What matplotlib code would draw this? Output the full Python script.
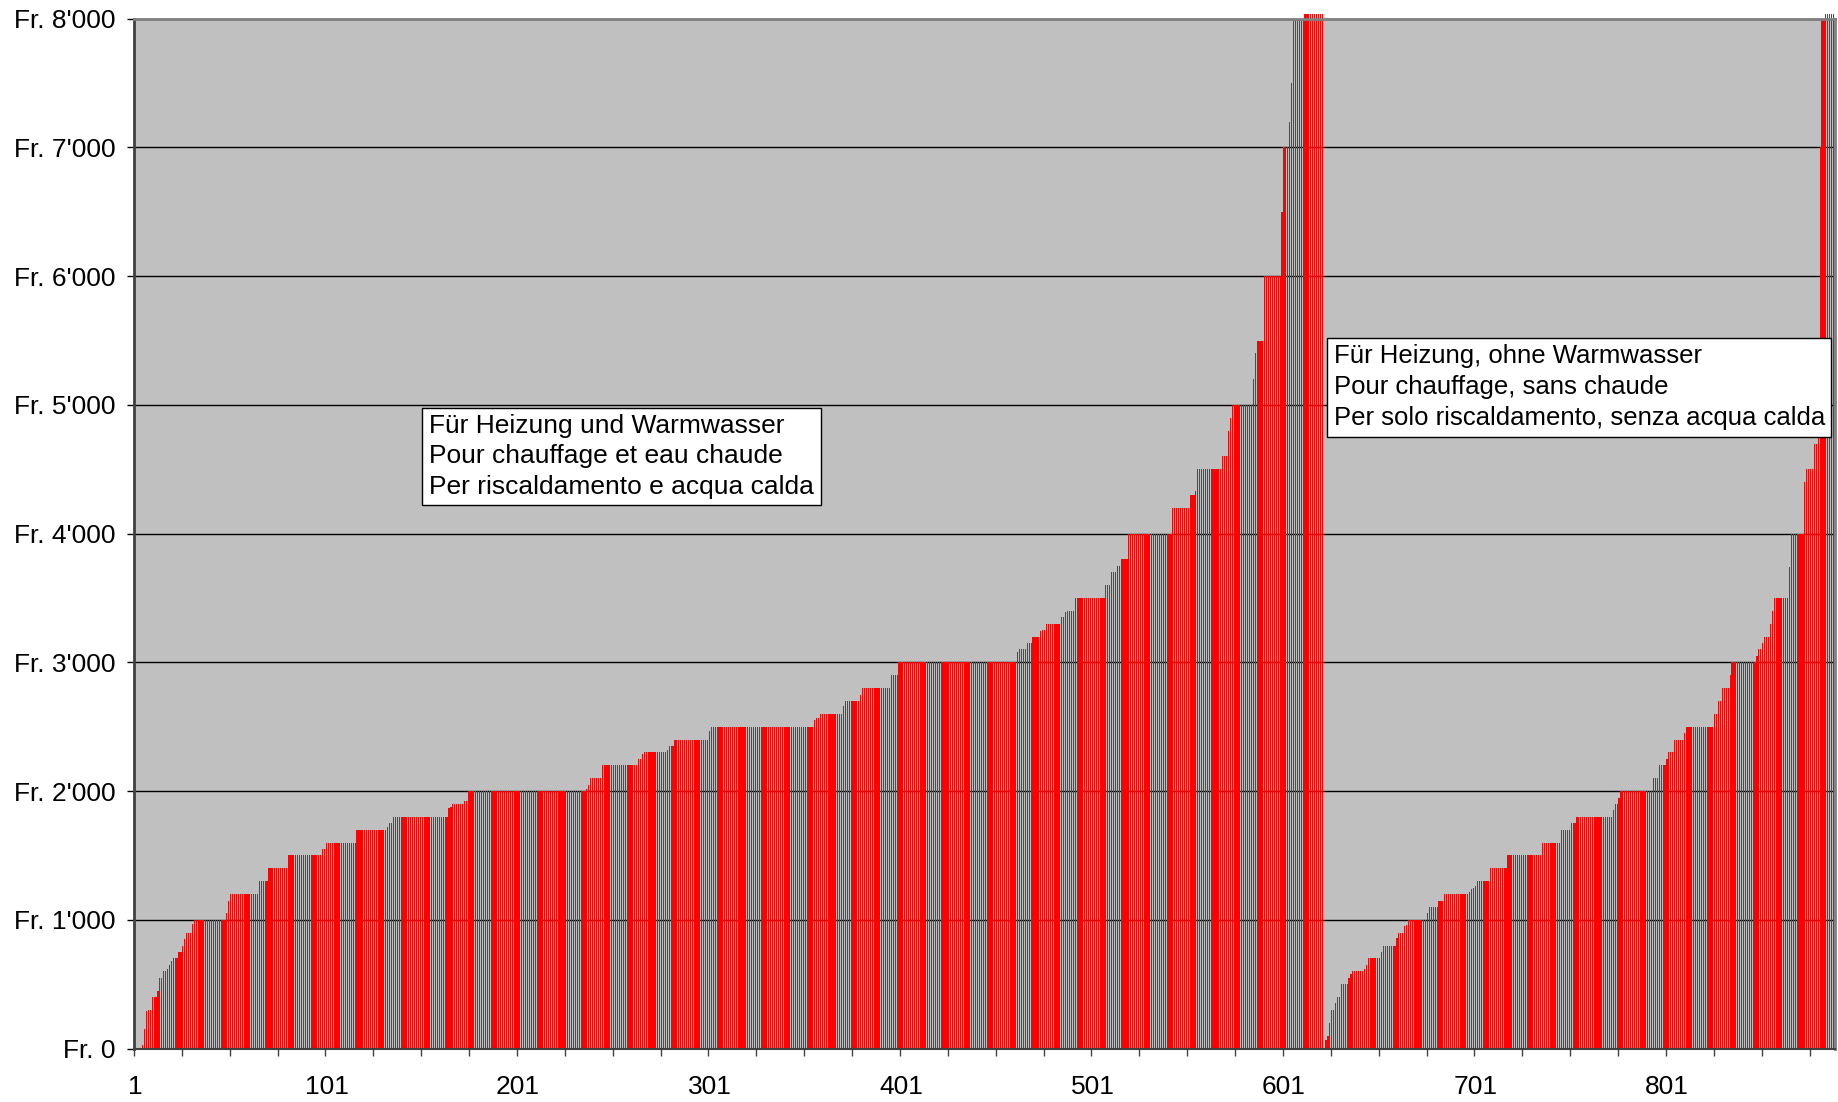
import numpy as np
import matplotlib
matplotlib.use('Agg')
import matplotlib.pyplot as plt
from matplotlib.ticker import FixedLocator, FuncFormatter, MultipleLocator

plt.rcParams['font.family'] = ['Liberation Sans', 'DejaVu Sans']

# sorted amounts as (level, number of bars) runs
# group 1: heating + hot water
g1_levels = [0, 30, 150, 290, 300, 400, 450, 550, 600, 620,
             650, 680, 700, 750, 800, 850, 900, 970, 1000, 1050,
             1150, 1200, 1300, 1400, 1500, 1550, 1600, 1700, 1720, 1750,
             1800, 1865, 1880, 1900, 1920, 2000, 2020, 2050, 2100, 2200,
             2250, 2290, 2300, 2320, 2350, 2400, 2470, 2500, 2555, 2570,
             2600, 2660, 2700, 2750, 2800, 2900, 3000, 3080, 3100, 3150,
             3200, 3240, 3250, 3300, 3350, 3390, 3400, 3500, 3600, 3700,
             3750, 3800, 4000, 4200, 4300, 4330, 4500, 4600, 4800, 4900,
             5000, 5200, 5400, 5500, 6000, 6500, 7000, 7200, 7500, 8000,
             8040]
g1_counts = [4, 1, 1, 1, 2, 3, 1, 2, 2, 1,
             1, 1, 3, 2, 1, 1, 3, 1, 17, 1,
             1, 15, 5, 10, 18, 2, 16, 16, 1, 2,
             29, 1, 1, 6, 2, 62, 1, 1, 6, 19,
             2, 1, 12, 1, 3, 18, 1, 54, 1, 2,
             12, 1, 8, 1, 15, 4, 62, 1, 4, 3,
             4, 1, 2, 8, 2, 1, 4, 16, 3, 3,
             2, 4, 23, 9, 3, 1, 13, 3, 1, 1,
             11, 1, 1, 4, 9, 1, 3, 1, 1, 6,
             10]

# group 2: heating only (first entry is the empty row between groups)
g2_levels = [0, 70, 100, 200, 300, 350, 400, 500, 550, 580,
             600, 620, 650, 700, 750, 800, 860, 900, 950, 960,
             1000, 1050, 1100, 1150, 1200, 1215, 1240, 1250, 1260, 1300,
             1400, 1500, 1600, 1700, 1750, 1800, 1850, 1900, 1950, 2000,
             2100, 2200, 2250, 2300, 2400, 2450, 2500, 2600, 2700, 2800,
             2900, 3000, 3050, 3100, 3150, 3200, 3300, 3400, 3500, 3740,
             4000, 4400, 4500, 4700, 5500, 7000, 8000, 8040]
g2_counts = [1, 1, 1, 1, 2, 1, 2, 4, 1, 1,
             6, 1, 1, 7, 1, 7, 1, 3, 1, 1,
             10, 1, 5, 3, 13, 1, 1, 1, 1, 7,
             9, 18, 10, 5, 3, 19, 1, 2, 1, 17,
             3, 4, 1, 3, 5, 1, 15, 2, 2, 4,
             1, 13, 1, 2, 1, 3, 1, 1, 8, 1,
             7, 1, 4, 2, 1, 1, 2, 5]

label_g1 = "Für Heizung und Warmwasser\nPour chauffage et eau chaude\nPer riscaldamento e acqua calda"
label_g2 = "Für Heizung, ohne Warmwasser\nPour chauffage, sans chaude\nPer solo riscaldamento, senza acqua calda"

values = np.concatenate([np.repeat(g1_levels, g1_counts),
                         np.repeat(g2_levels, g2_counts)])
x = np.arange(1, len(values) + 1)

fig = plt.figure(figsize=(18.38, 11.02), dpi=100)
ax = fig.add_axes([0.0729, 0.0485, 0.9252, 0.9345])
ax.set_facecolor('#C0C0C0')

ax.bar(x, values, width=0.62, color='#FF0000', linewidth=0, clip_on=False, zorder=2)

ax.set_xlim(0.5, len(values) + 0.5)
ax.set_ylim(0, 8000)

# y axis
ax.yaxis.set_major_locator(MultipleLocator(1000))
ax.yaxis.set_major_formatter(FuncFormatter(lambda v, p: "Fr. " + format(int(v), ',').replace(',', "'")))
ax.yaxis.grid(True, color='black', linewidth=1, zorder=1)
ax.set_axisbelow(True)
ax.tick_params(axis='y', length=5, width=1, pad=8, labelsize=19, colors='black')

# x axis: labels every 100, tick marks every 25 categories
ax.xaxis.set_major_locator(FixedLocator(np.arange(1, len(values) + 1, 100)))
ax.xaxis.set_major_formatter(FuncFormatter(lambda v, p: str(int(v))))
ax.xaxis.set_minor_locator(FixedLocator(np.arange(0.5, len(values), 25)))
ax.tick_params(axis='x', which='major', length=0, pad=19, labelsize=19)
ax.tick_params(axis='x', which='minor', length=5, width=1, color='#404040')

ax.spines['left'].set_color('#404040')
ax.spines['left'].set_linewidth(2)
ax.spines['bottom'].set_color('#404040')
ax.spines['bottom'].set_linewidth(1.5)
ax.spines['top'].set_color('#808080')
ax.spines['top'].set_linewidth(2)
ax.spines['right'].set_color('#808080')
ax.spines['right'].set_linewidth(2)

box = dict(boxstyle='square,pad=0.25', facecolor='white', edgecolor='black', linewidth=1)
ax.text(0.1735, 0.616, label_g1, transform=ax.transAxes, ha='left', va='top',
        fontsize=19, linespacing=1.33, bbox=box, zorder=5)
ax.text(0.7055, 0.684, label_g2, transform=ax.transAxes, ha='left', va='top',
        fontsize=18.5, linespacing=1.37, bbox=box, zorder=5, clip_on=False)

fig.savefig('out.png', dpi=100)
